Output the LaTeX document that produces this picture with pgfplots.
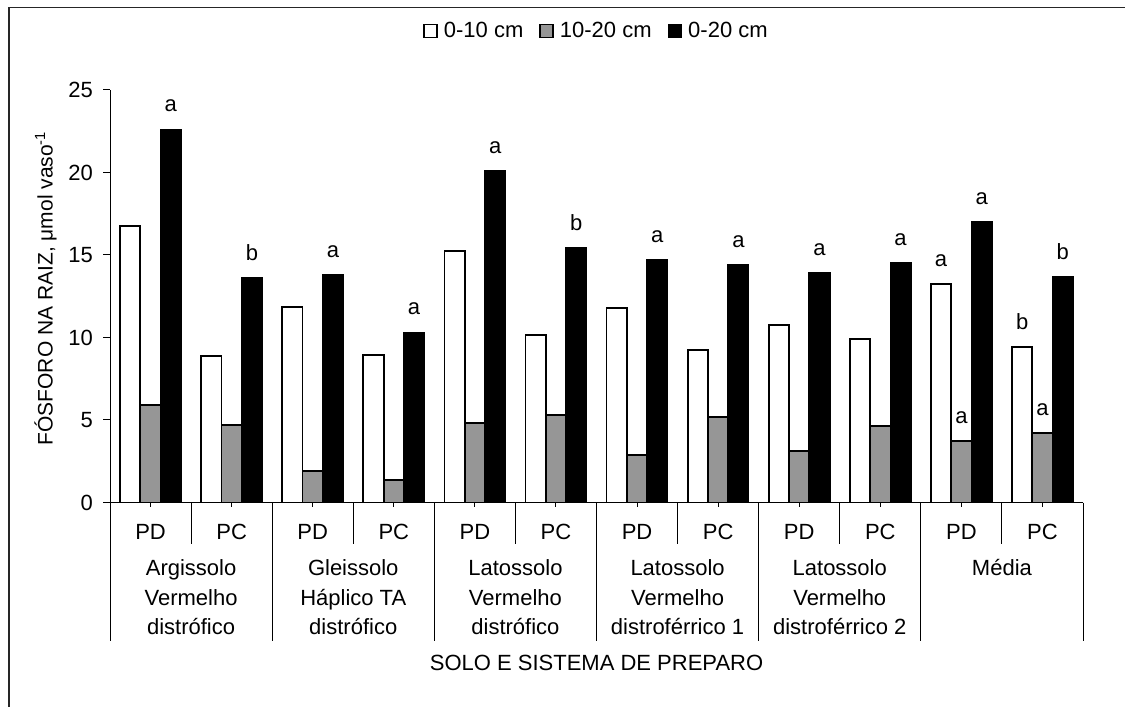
\documentclass[border=0pt]{standalone}
\usepackage{pgfplots}
\pgfplotsset{compat=1.18}
\usepackage{fontspec}
\setmainfont{Liberation Sans}
\definecolor{barGray}{RGB}{150,150,150}
\newcommand{\lbl}{\fontsize{22bp}{29.5bp}\selectfont}
\begin{document}
\begin{tikzpicture}
\useasboundingbox (0bp,0bp) rectangle (1125bp,707bp);
% frame of the figure (top and left edges)
\draw[line width=1.5bp, black!85] (9bp,-2bp) -- (9bp,699.7bp) -- (1127bp,699.7bp);
\begin{axis}[
  at={(110bp,204.5bp)}, anchor=south west,
  scale only axis, width=973bp, height=412.5bp,
  xmin=-0.5, xmax=11.5, ymin=0, ymax=25,
  axis x line*=bottom, axis y line*=left,
  axis line style={-, line width=1bp, black},
  clip=false,
  font=\lbl,
  /pgf/number format/assume math mode=true,
  ytick={0,5,...,25},
  xtick={0,...,11},
  xticklabels={PD,PC,PD,PC,PD,PC,PD,PC,PD,PC,PD,PC},
  tick align=outside,
  major tick length=7bp,
  xtick style={/pgfplots/major tick length=4bp},
  tick style={black, line width=1bp},
  yticklabel style={anchor=east, inner sep=0pt, xshift=-10bp},
  xticklabel style={anchor=base, inner sep=0pt, yshift=-30bp},
  ybar, bar width=20.3bp,
  point meta=explicit symbolic,
  every node near coord/.append style={anchor=south, inner sep=0pt, yshift=16.5bp, font=\lbl, black},
  legend style={at={(0.5,1.143)}, anchor=center, draw=none, fill=none,
    legend columns=3, font=\lbl,
    /tikz/every odd column/.append style={column sep=4bp},
    /tikz/every even column/.append style={column sep=14bp}},
  xlabel={SOLO E SISTEMA DE PREPARO},
  xlabel style={at={(axis description cs:0.5,0)}, anchor=center, yshift=-160.8bp, inner sep=0pt},
  ylabel={FÓSFORO NA RAIZ, μmol vaso\textsuperscript{-1}},
  ylabel style={at={([xshift=-64.5bp]axis description cs:0,0.519)}, anchor=center, inner sep=0pt, font=\fontsize{21bp}{24bp}\selectfont},
]
% 0-10 cm
\addplot[draw=black, line width=1.8bp, fill=white, bar shift=-20.3bp,
  legend image code/.code={\draw[draw=black, fill=white, line width=1.6bp] (0bp,-6.5bp) rectangle (13bp,6.5bp);}]
  coordinates {(0,16.75) (1,8.88) (2,11.85) (3,8.92) (4,15.24) (5,10.13)
               (6,11.77) (7,9.24) (8,10.78) (9,9.89)};
\addlegendentry{0-10 cm}
% 10-20 cm
\addplot[draw=black, line width=1.8bp, fill=barGray, bar shift=0bp,
  legend image code/.code={\draw[draw=black, fill=barGray, line width=1.6bp] (0bp,-6.5bp) rectangle (13bp,6.5bp);}]
  coordinates {(0,5.90) (1,4.70) (2,1.89) (3,1.36) (4,4.80) (5,5.30)
               (6,2.88) (7,5.16) (8,3.12) (9,4.64)};
\addlegendentry{10-20 cm}
% 0-20 cm
\addplot[draw=black, line width=1.8bp, fill=black, bar shift=20.3bp,
  nodes near coords,
  legend image code/.code={\draw[draw=black, fill=black, line width=1.6bp] (0bp,-6.5bp) rectangle (13bp,6.5bp);}]
  coordinates {(0,22.60) [a] (1,13.60) [b] (2,13.80) [a] (3,10.30) [a]
               (4,20.09) [a] (5,15.44) [b] (6,14.70) [a] (7,14.39) [a]
               (8,13.93) [a] (9,14.53) [a] (10,17.02) [a] (11,13.67) [b]};
\addlegendentry{0-20 cm}
% means (Média), with their letters
\addplot[forget plot, draw=black, line width=1.8bp, fill=white, bar shift=-20.3bp, nodes near coords]
  coordinates {(10,13.26) [a] (11,9.42) [b]};
\addplot[forget plot, draw=black, line width=1.8bp, fill=barGray, bar shift=0bp, nodes near coords]
  coordinates {(10,3.73) [a] (11,4.23) [a]};

% group dividers below the axis
\pgfplotsinvokeforeach{0.5,2.5,4.5,6.5,8.5,10.5}{
  \draw[line width=1bp] (axis cs:#1,0) -- ++(0bp,-41bp);
}
\pgfplotsinvokeforeach{-0.5,1.5,3.5,5.5,7.5,9.5,11.5}{
  \draw[line width=1bp] (axis cs:#1,0) -- ++(0bp,-138bp);
}
\node[anchor=north, align=center, inner sep=0pt, font=\lbl] at ([yshift=-57bp]axis cs:0.5,0) {Argissolo\\Vermelho\\distrófico};
\node[anchor=north, align=center, inner sep=0pt, font=\lbl] at ([yshift=-57bp]axis cs:2.5,0) {Gleissolo\\Háplico TA\\distrófico};
\node[anchor=north, align=center, inner sep=0pt, font=\lbl] at ([yshift=-57bp]axis cs:4.5,0) {Latossolo\\Vermelho\\distrófico};
\node[anchor=north, align=center, inner sep=0pt, font=\lbl] at ([yshift=-57bp]axis cs:6.5,0) {Latossolo\\Vermelho\\distroférrico 1};
\node[anchor=north, align=center, inner sep=0pt, font=\lbl] at ([yshift=-57bp]axis cs:8.5,0) {Latossolo\\Vermelho\\distroférrico 2};
\node[anchor=north, align=center, inner sep=0pt, font=\lbl] at ([yshift=-57bp]axis cs:10.5,0) {Média};
\end{axis}
\end{tikzpicture}
\end{document}
